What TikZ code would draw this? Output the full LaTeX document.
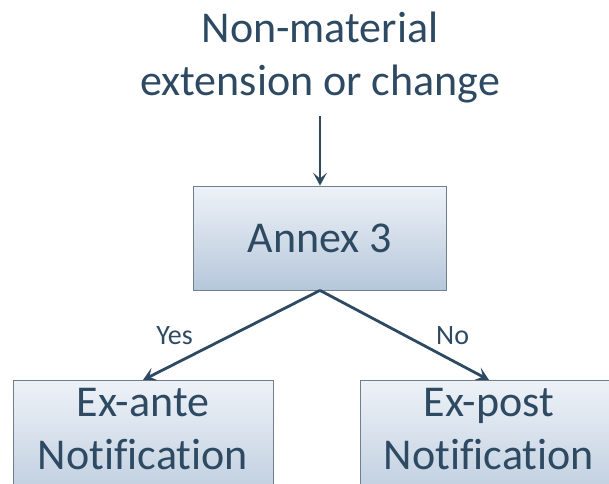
\documentclass[tikz,border=0pt]{standalone}
\usepackage{fontspec}
\setmainfont[Ligatures=NoCommon]{Carlito}
\usetikzlibrary{arrows.meta}
\definecolor{inktext}{HTML}{2E4A63}
\definecolor{boxline}{HTML}{6F7F90}
\definecolor{boxtop}{HTML}{EEF2F7}
\definecolor{boxbottom}{HTML}{B6C7DB}
\begin{document}
\begin{tikzpicture}[x=1pt, y=1pt,
    box/.style={draw=boxline, line width=0.8pt, top color=boxtop, bottom color=boxbottom,
      text=inktext, align=center, font=\fontsize{44}{53}\selectfont},
    link/.style={draw=inktext, line width=2.8pt, -{Stealth[length=13pt, width=14pt, inset=6pt]}},
    answer/.style={text=inktext, font=\fontsize{28}{32}\selectfont}]
  \useasboundingbox (0,0) rectangle (609,483);
  \clip (0,0) rectangle (609,483);

  \node[text=inktext, align=center, font=\fontsize{44}{52}\selectfont, anchor=base] (title) at (320,388) {Non-material\\extension or change};
  \node[box, minimum width=253, minimum height=104] (annex) at (320,245) {Annex 3};
  \draw[link, shorten <=10pt] (title) -- (annex);

  \node[box, anchor=north, minimum width=260, inner ysep=8pt, text depth=40pt] (ante) at (143,103) {Ex-ante\\Notification};
  \node[box, anchor=north, minimum width=258, inner ysep=8pt, text depth=40pt] (post) at (489,103) {Ex-post\\Notification};

  \draw[link] (annex.south) -- (ante.north) node[answer, midway, left=34pt] {Yes};
  \draw[link] (annex.south) -- (post.north) node[answer, midway, right=27pt] {No};
\end{tikzpicture}
\end{document}
